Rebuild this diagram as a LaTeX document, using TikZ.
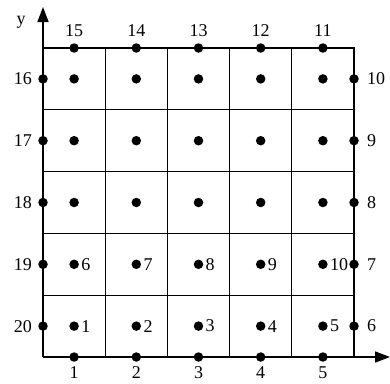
\documentclass[tikz,border=0pt]{standalone}
\usepackage{fontspec}
\setmainfont{Liberation Serif}
\usetikzlibrary{arrows.meta}
\begin{document}
\begin{tikzpicture}[x=1pt,y=-1pt,
  dot/.style={circle,fill=black,inner sep=0pt,minimum size=9.5pt},
  lbl/.style={font=\fontsize{18}{21}\selectfont,inner sep=0pt},
  gridline/.style={line width=0.8pt},
  border/.style={line width=1.6pt},
  axis/.style={line width=1.6pt,-{Triangle[length=15pt,width=11pt]}}]
\useasboundingbox (0,0) rectangle (390,383);
% grid
\foreach \k in {1,2,3,4}{
  \draw[gridline] ({43+62.2*\k},48) -- ({43+62.2*\k},357);
  \draw[gridline] (43,{48+61.8*\k}) -- (354,{48+61.8*\k});
}
\draw[border] (43,48) -- (354,48) -- (354,357);
% axes
\coordinate (O) at (43,357);
\coordinate (ytip) at (43,7);
\coordinate (xtip) at (390,357);
\draw[axis] (O) -- (ytip);
\draw[axis] (O) -- (xtip);
\node[lbl] (ylab) at (21,22) {y};
% interior dots
\foreach \i in {1,...,5}{
  \foreach \j in {1,...,5}{
    \node[dot] (c\i\j) at ({43+62.2*(\i-0.5)},{357-61.8*(\j-0.5)}) {};
  }
}
% interior labels
\foreach \i in {1,...,5}{
  \pgfmathtruncatemacro{\n}{\i}
  \pgfmathtruncatemacro{\m}{\i+5}
  \node[lbl,anchor=west] (il\n) at ([xshift=7pt]c\i1.center) {\n};
  \node[lbl,anchor=west] (il\m) at ([xshift=7pt]c\i2.center) {\m};
}
% boundary dots and labels
\foreach \i in {1,...,5}{
  % bottom 1..5
  \pgfmathtruncatemacro{\b}{\i}
  \node[dot] (b\b) at ({43+62.2*(\i-0.5)},357) {};
  \node[lbl] (bl\b) at ({43+62.2*(\i-0.5)},373) {\b};
  % right 6..10 bottom to top
  \pgfmathtruncatemacro{\r}{\i+5}
  \node[dot] (b\r) at (354,{357-61.8*(\i-0.5)}) {};
  \node[lbl,anchor=west] (bl\r) at (367,{357-61.8*(\i-0.5)}) {\r};
  % top 11..15 right to left
  \pgfmathtruncatemacro{\t}{16-\i}
  \node[dot] (b\t) at ({43+62.2*(\i-0.5)},48) {};
  \node[lbl] (bl\t) at ({43+62.2*(\i-0.5)},31) {\t};
  % left 16..20 top to bottom
  \pgfmathtruncatemacro{\l}{21-\i}
  \node[dot] (b\l) at (43,{357-61.8*(\i-0.5)}) {};
  \node[lbl,anchor=east] (bl\l) at (32,{357-61.8*(\i-0.5)}) {\l};
}
\end{tikzpicture}
\end{document}
